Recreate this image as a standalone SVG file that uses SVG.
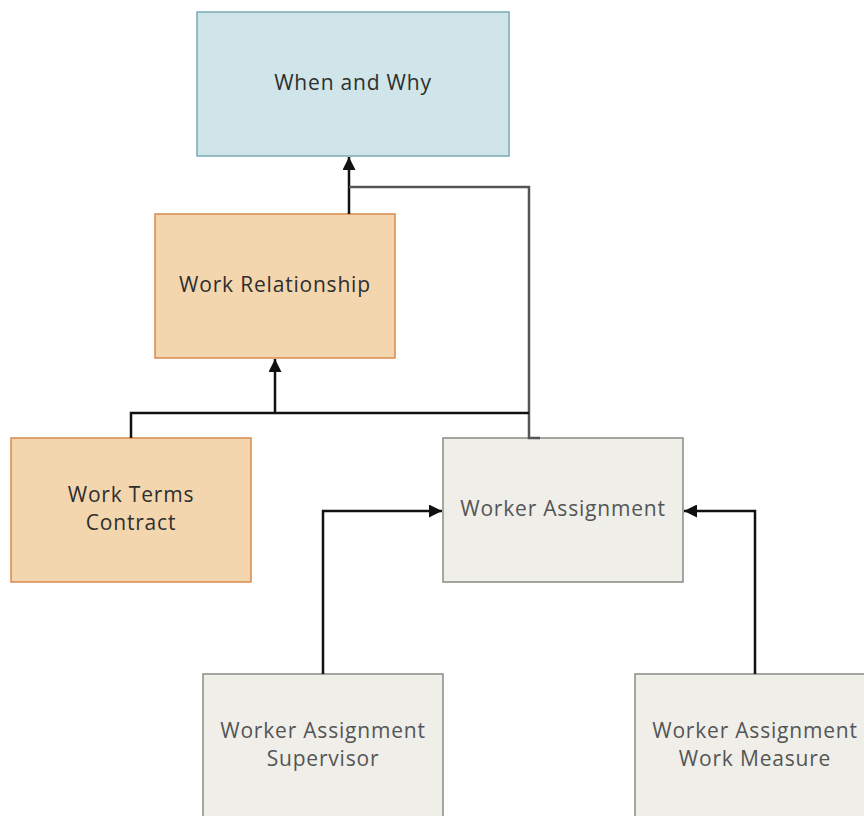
<svg xmlns="http://www.w3.org/2000/svg" width="864" height="816" viewBox="0 0 864 816">
<defs>
<marker id="ah" viewBox="0 0 10 10" refX="10" refY="5" markerWidth="13" markerHeight="13" markerUnits="userSpaceOnUse" orient="auto">
<path d="M0,0 L10,5 L0,10 z" fill="#111"/>
</marker>
<style>
.blue{fill:#cfe5ea;stroke:#7aa9b2;stroke-width:1.5}
.orange{fill:#f4d6ae;stroke:#d98a4c;stroke-width:1.5}
.gray{fill:#efeee8;stroke:#8a8a86;stroke-width:1.5}
text{font-family:"Open Sans","Noto Sans",sans-serif;font-size:21px;letter-spacing:0.8px;text-anchor:middle}
.dk{fill:#2e2e2e}
.lt{fill:#555}
.c{fill:none;stroke:#111;stroke-width:2.5}
.cg{fill:none;stroke:#555;stroke-width:2.5}
</style>
</defs>
<g id="when-why"><rect class="blue" x="197" y="12" width="312" height="144"/><text class="dk" x="353" y="90">When and Why</text></g>
<g id="work-relationship"><rect class="orange" x="155" y="214" width="240" height="144"/><text class="dk" x="275" y="292">Work Relationship</text></g>
<g id="work-terms-contract"><rect class="orange" x="11" y="438" width="240" height="144"/><text class="dk" x="131" y="502">Work Terms</text><text class="dk" x="131" y="530">Contract</text></g>
<g id="worker-assignment"><rect class="gray" x="443" y="438" width="240" height="144"/><text class="lt" x="563" y="516">Worker Assignment</text></g>
<g id="wa-supervisor"><rect class="gray" x="203" y="674" width="240" height="160"/><text class="lt" x="323" y="738">Worker Assignment</text><text class="lt" x="323" y="766">Supervisor</text></g>
<g id="wa-work-measure"><rect class="gray" x="635" y="674" width="240" height="160"/><text class="lt" x="755" y="738">Worker Assignment</text><text class="lt" x="755" y="766">Work Measure</text></g>
<g id="connectors">
<path class="c" d="M349,214 V157" marker-end="url(#ah)"/>
<path class="cg" d="M349,187 H529 V438 H540"/>
<path class="c" d="M131,438 V413 H529"/>
<path class="c" d="M275,413 V359" marker-end="url(#ah)"/>
<path class="c" d="M323,674 V511 H442" marker-end="url(#ah)"/>
<path class="c" d="M755,674 V511 H684" marker-end="url(#ah)"/>
</g>
</svg>
